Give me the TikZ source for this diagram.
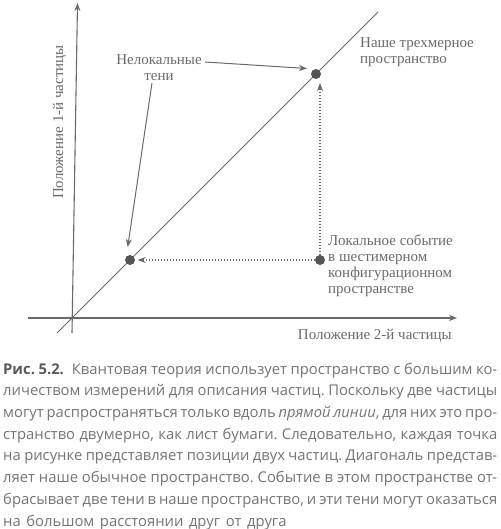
\documentclass[tikz,border=0pt]{standalone}
\usepackage{fontspec}
\setmainfont{Liberation Serif}
\newfontfamily\capfont{Open Sans}
\usetikzlibrary{arrows.meta,calc}
\definecolor{ink}{HTML}{6A6A6A}
\definecolor{dotc}{HTML}{555555}
\definecolor{captxt}{HTML}{747474}
\definecolor{capbold}{HTML}{5A5A5A}
\newcommand\capline[1]{\noindent\makebox[\linewidth][s]{\strut#1}\par}
\begin{document}
\begin{tikzpicture}[x=1pt,y=-1pt,
  axis/.style={draw=ink,line width=1.1pt},
  tipped/.style={-{Stealth[length=8pt,width=6pt,inset=2.5pt]}},
  leader/.style={draw=ink,line width=1pt},
  dotline/.style={draw=ink,line width=1.1pt,dash pattern=on 1.1pt off 1.9pt},
  dotmark/.style={circle,fill=dotc,inner sep=0pt,minimum size=10pt},
  lbl/.style={font=\fontsize{15}{16}\selectfont,text=ink,inner sep=0pt},
]
\useasboundingbox (0,0) rectangle (500,529);
% axes
\coordinate (vb) at (72,333);
\coordinate (vt) at (77.5,3);
\coordinate (hl) at (28,318);
\coordinate (hr) at (457,318);
\coordinate (gb) at (57,333);
\coordinate (gt) at (378,12);
\draw[axis,tipped] (vb) -- (vt);
\draw[axis,tipped] (hl) -- (hr);
\draw[axis,line width=1pt] (gb) -- (gt);
% points
\node[dotmark] (d1) at (130,260) {};
\node[dotmark] (d2) at (316,74) {};
\node[dotmark] (ev) at (320,260) {};
\draw[dotline,tipped,shorten >=9pt] (ev) -- (ev |- d2);
\draw[dotline,tipped,shorten >=2.5pt] (ev) -- (d1);
% labels
\node[lbl,anchor=north,align=center] (nl) at (159,52.8) {\strut Нелокальные\\тени};
\node[lbl,anchor=north west,align=left] (ours) at (360,36.5) {\strut Наше трехмерное\\пространство};
\node[lbl,anchor=north west,align=left] (loc) at (328,233.8) {\strut Локальное событие\\в шестимерном\\конфигурационном\\пространстве};
\node[lbl,anchor=base east] (xl) at (452,339) {Положение 2-й частицы};
\node[lbl,anchor=base,rotate=90] (yl) at (63,122) {Положение 1-й частицы};
% leaders
\coordinate (nlA) at (205,62);
\coordinate (nlT) at (307,68.5);
\coordinate (nlB) at (152,83);
\coordinate (nlT2) at (127.7,247);
\draw[leader,tipped] (nlA) -- (nlT);
\draw[leader,tipped] (nlB) -- (nlT2);
% caption
\node[anchor=north west,inner sep=0pt,text width=494pt,align=left,
  font=\capfont\fontsize{14.8}{21.7}\selectfont,text=captxt] (cap) at (3,358.8)
{\frenchspacing\spaceskip=5.6pt plus 4pt minus 3.2pt\relax
\capline{\textcolor{capbold}{\textbf{Рис. 5.2.}}\hspace{8pt}Квантовая теория использует пространство с большим ко-}
\capline{личеством измерений для описания частиц. Поскольку две частицы}
\capline{могут распространяться только вдоль \textit{прямой линии}, для них это про-}
\capline{странство двумерно, как лист бумаги. Следовательно, каждая точка}
\capline{на рисунке представляет позиции двух частиц. Диагональ представ-}
\capline{ляет наше обычное пространство. Событие в этом пространстве от-}
\capline{брасывает две тени в наше пространство, и эти тени могут оказаться}
\noindent\strut на большом расстоянии друг от друга\par};
\end{tikzpicture}
\end{document}
